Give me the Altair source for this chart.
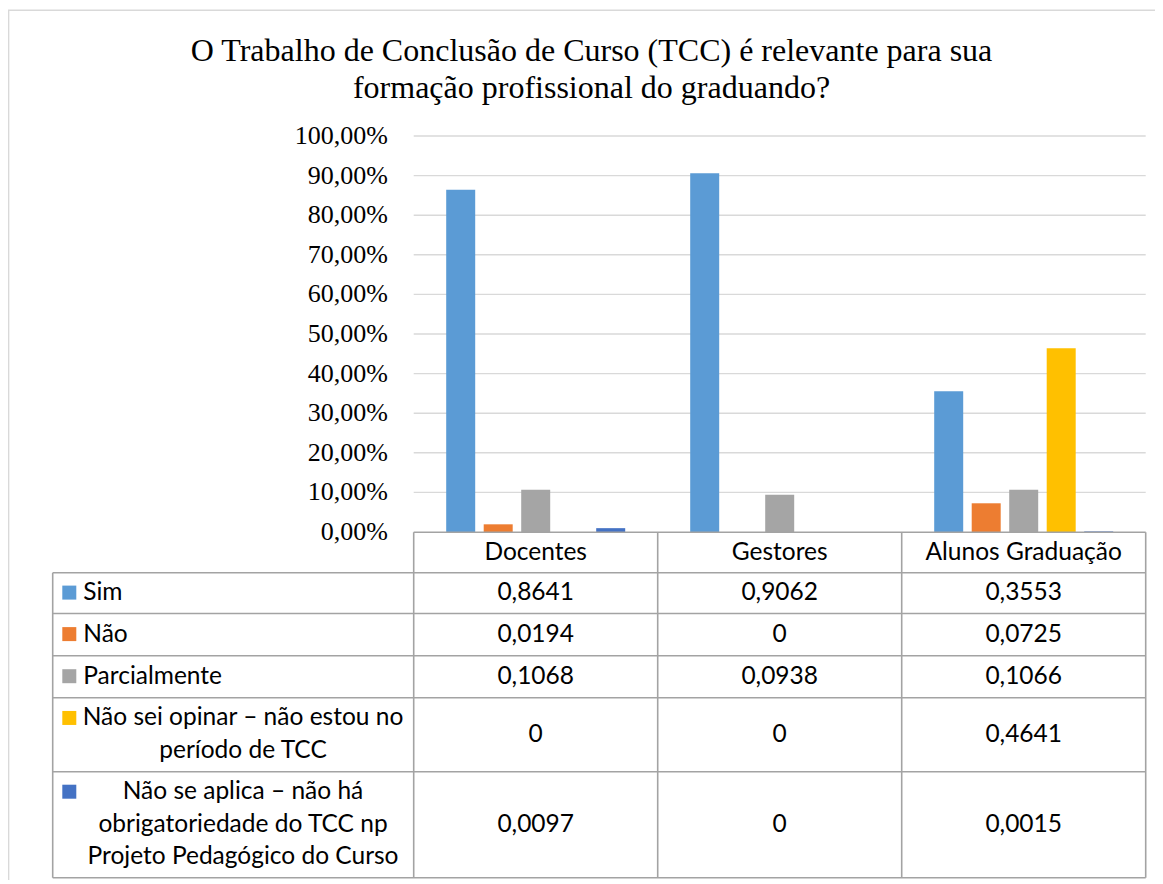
import altair as alt
import pandas as pd

# ---------------- data ----------------
categories = ["Docentes", "Gestores", "Alunos Graduação"]
series = [
    "Sim",
    "Não",
    "Parcialmente",
    "Não sei opinar – não estou no período de TCC",
    "Não se aplica – não há obrigatoriedade do TCC np Projeto Pedagógico do Curso",
]
series_lines = [
    ["Sim"],
    ["Não"],
    ["Parcialmente"],
    ["Não sei opinar – não estou no", "período de TCC"],
    ["Não se aplica – não há", "obrigatoriedade do TCC np", "Projeto Pedagógico do Curso"],
]
sim = [0.8641, 0.9062, 0.3553]
nao = [0.0194, 0.0, 0.0725]
parcialmente = [0.1068, 0.0938, 0.1066]
nao_sei = [0.0, 0.0, 0.4641]
nao_aplica = [0.0097, 0.0, 0.0015]
series_values = [sim, nao, parcialmente, nao_sei, nao_aplica]
colors = ["#5B9BD5", "#ED7D31", "#A5A5A5", "#FFC000", "#4472C4"]

y_ticks = [0.0, 0.1, 0.2, 0.3, 0.4, 0.5, 0.6, 0.7, 0.8, 0.9, 1.0]
y_tick_labels = ["0,00%", "10,00%", "20,00%", "30,00%", "40,00%", "50,00%",
                 "60,00%", "70,00%", "80,00%", "90,00%", "100,00%"]
title_lines = [
    "O Trabalho de Conclusão de Curso (TCC) é relevante para sua",
    "formação profissional do graduando?",
]

# ---------------- layout (page pixels) ----------------
MARGIN = 8
W, H = 1147, 872
PX0, CW = 413.7, 244.0        # page x of first category edge, category width
PY0, VH = 532.0, 396.0        # page y of value 0, pixels per 100 %


def u(px):
    return (px - PX0) / CW


def v(py):
    return (PY0 - py) / VH


xs = alt.Scale(domain=[u(MARGIN), u(MARGIN + W)], nice=False, zero=False)
ys = alt.Scale(domain=[v(MARGIN + H), v(MARGIN)], nice=False, zero=False)
cs = alt.Scale(domain=series, range=colors)

STEP = 37.5 / CW
BW = 29.0 / CW
TABLE_LEFT = 52.7
ROW_EDGES = [532.3, 572.7, 613.5, 655.7, 697.7, 771.7, 877.7]
LINE_H = 32.5
FONT_T = "Lato"
FONT_S = "Liberation Serif"


def fmt(val):
    return "0" if val == 0 else f"{val:.4f}".replace(".", ",")


# ---------------- tables ----------------
bar_rows = []
for ci, cat in enumerate(categories):
    for si, s in enumerate(series):
        c = ci + 0.5 + (si - 2) * STEP
        bar_rows.append(dict(category=cat, series=s, value=series_values[si][ci],
                             u0=c - BW / 2, u1=c + BW / 2, zero=0.0))
bars_df = pd.DataFrame(bar_rows)

grid_df = pd.DataFrame(dict(y=y_ticks[1:], x0=[0.0] * 10, x1=[3.0] * 10))
ylab_df = pd.DataFrame(dict(y=y_ticks, label=y_tick_labels, x=[u(388)] * len(y_ticks)))

lines = [dict(x0=0.0, x1=3.0, y0=v(ROW_EDGES[0]), y1=v(ROW_EDGES[0]))]
for e in ROW_EDGES[1:]:
    lines.append(dict(x0=u(TABLE_LEFT), x1=3.0, y0=v(e), y1=v(e)))
for c in range(4):
    lines.append(dict(x0=float(c), x1=float(c), y0=v(ROW_EDGES[0]), y1=v(ROW_EDGES[-1])))
lines.append(dict(x0=u(TABLE_LEFT), x1=u(TABLE_LEFT), y0=v(ROW_EDGES[1]), y1=v(ROW_EDGES[-1])))
lines_df = pd.DataFrame(lines)

header_df = pd.DataFrame(dict(
    x=[ci + 0.5 for ci in range(len(categories))],
    y=[v((ROW_EDGES[0] + ROW_EDGES[1]) / 2)] * len(categories),
    text=categories,
))

cell_rows = []
left_rows, center_rows, key_rows = [], [], []
for si, s in enumerate(series):
    top, bot = ROW_EDGES[si + 1], ROW_EDGES[si + 2]
    mid = (top + bot) / 2
    for ci in range(len(categories)):
        cell_rows.append(dict(x=ci + 0.5, y=v(mid), text=fmt(series_values[si][ci])))
    ls = series_lines[si]
    n = len(ls)
    for k, t in enumerate(ls):
        yc = mid + (k - (n - 1) / 2) * LINE_H
        if n == 1:
            left_rows.append(dict(x=u(83.3), y=v(yc), text=t))
        else:
            center_rows.append(dict(x=u(243), y=v(yc), text=t))
        if k == 0:
            key_rows.append(dict(x=u(69.3), y=v(yc - 0.5), series=s))
cells_df = pd.DataFrame(cell_rows)
left_df = pd.DataFrame(left_rows)
center_df = pd.DataFrame(center_rows)
key_df = pd.DataFrame(key_rows)

title_df = pd.DataFrame(dict(x=[u(591.5)] * 2, y=[v(60.7), v(97.5)], text=title_lines))
dummy = pd.DataFrame(dict(a=[0]))

# ---------------- layers ----------------
X = lambda f: alt.X(f, scale=xs, axis=None)
Y = lambda f: alt.Y(f, scale=ys, axis=None)

frame_top = alt.Chart(dummy).mark_rule(color="#d9d9d9", strokeWidth=1.5).encode(
    x=alt.value(0), x2=alt.value(W), y=alt.value(2.3))
frame_left = alt.Chart(dummy).mark_rule(color="#d9d9d9", strokeWidth=1.5).encode(
    x=alt.value(0.6), y=alt.value(2.3), y2=alt.value(H))

grid = alt.Chart(grid_df).mark_rule(color="#d9d9d9", strokeWidth=1.4).encode(
    x=X("x0:Q"), x2="x1:Q", y=Y("y:Q"))

bars = alt.Chart(bars_df).mark_bar().encode(
    x=X("u0:Q"), x2="u1:Q", y=Y("value:Q"), y2="zero:Q",
    color=alt.Color("series:N", scale=cs, legend=None))

ylabels = alt.Chart(ylab_df).mark_text(
    align="right", baseline="middle", font=FONT_S, fontSize=26, color="#000000"
).encode(x=X("x:Q"), y=Y("y:Q"), text="label:N")

table_lines = alt.Chart(lines_df).mark_rule(color="#a3a3a3", strokeWidth=1.6).encode(
    x=X("x0:Q"), x2="x1:Q", y=Y("y0:Q"), y2="y1:Q")

txt = dict(font=FONT_T, fontSize=24.5, color="#000000", baseline="middle")
header = alt.Chart(header_df).mark_text(align="center", **txt).encode(
    x=X("x:Q"), y=Y("y:Q"), text="text:N")
cells = alt.Chart(cells_df).mark_text(align="center", **txt).encode(
    x=X("x:Q"), y=Y("y:Q"), text="text:N")
left_labels = alt.Chart(left_df).mark_text(align="left", **txt).encode(
    x=X("x:Q"), y=Y("y:Q"), text="text:N")
center_labels = alt.Chart(center_df).mark_text(align="center", **txt).encode(
    x=X("x:Q"), y=Y("y:Q"), text="text:N")
keys = alt.Chart(key_df).mark_square(size=196, opacity=1, filled=True).encode(
    x=X("x:Q"), y=Y("y:Q"), color=alt.Color("series:N", scale=cs, legend=None))

title = alt.Chart(title_df).mark_text(
    align="center", baseline="alphabetic", font=FONT_S, fontSize=32, color="#000000"
).encode(x=X("x:Q"), y=Y("y:Q"), text="text:N")

chart = alt.layer(
    frame_top, frame_left, grid, bars, ylabels, table_lines,
    header, cells, left_labels, center_labels, keys, title,
).properties(
    width=W, height=H, padding=0,
    autosize=alt.AutoSizeParams(type="none"),
    background="white",
).configure_view(stroke=None)

chart.save("out.html", embed_options={"renderer": "svg", "actions": False})
